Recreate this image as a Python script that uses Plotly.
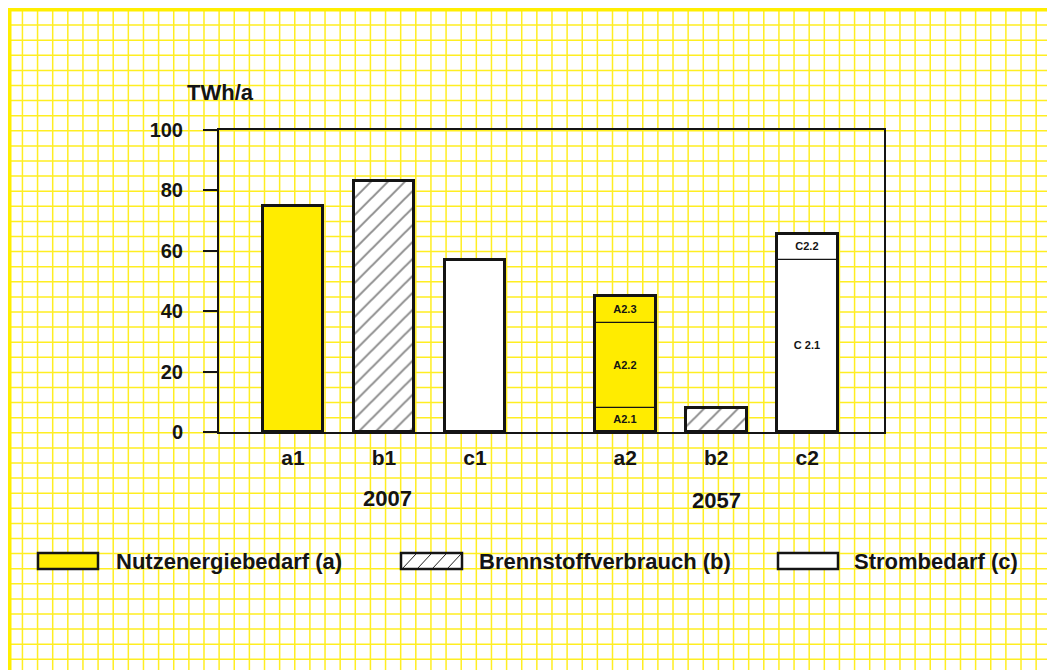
import plotly.graph_objects as go

# ---------------- data ----------------
groups = ["2007", "2057"]
categories_2007 = ["a1", "b1", "c1"]
categories_2057 = ["a2", "b2", "c2"]
nutzenergie_2007 = 75      # a1
brennstoff_2007 = 83       # b1
strom_2007 = 57            # c1
a2_labels = ["A2.1", "A2.2", "A2.3"]
a2_values = [8, 28, 9]
brennstoff_2057 = 8        # b2
c2_labels = ["C 2.1", "C2.2"]
c2_values = [57, 8.5]
legend_labels = ["Nutzenergiebedarf (a)", "Brennstoffverbrauch (b)", "Strombedarf (c)"]
y_ticks = [0, 20, 40, 60, 80, 100]
y_unit = "TWh/a"

# ---------------- layout helpers ----------------
OFF = 8                      # page body margin in the browser
W, H = 1055 - OFF, 670 - OFF
L, R, T, B = 219, 884, 130, 432      # plot area in window pixels
GROUP_OFFSET = 3.65
BAR_W = 0.67
X_RANGE = [-0.813, -0.813 + (R - L) / 91.0]

def px(x):
    return (x - L) / (R - L)

def py(y):
    return (B - y) / (B - T)

FONT = "Liberation Sans, Arial, Helvetica, sans-serif"
YELLOW = "#FFEC00"
GRID = "#FFEE22"
INK = "#141414"

pos_2007 = [i for i in range(len(categories_2007))]
pos_2057 = [GROUP_OFFSET + i for i in range(len(categories_2057))]
all_pos = pos_2007 + pos_2057
all_cats = categories_2007 + categories_2057

fig = go.Figure()

# simple bars
fig.add_trace(go.Bar(x=[pos_2007[0]], y=[nutzenergie_2007], width=BAR_W,
                     marker=dict(color=YELLOW, line=dict(width=0)), hoverinfo="skip"))
fig.add_trace(go.Bar(x=[pos_2007[1], pos_2057[1]], y=[brennstoff_2007, brennstoff_2057], width=BAR_W,
                     marker=dict(color="white", line=dict(width=0),
                                 pattern=dict(shape="/", size=12, solidity=0.16,
                                              fgcolor="#111111", bgcolor="white")),
                     hoverinfo="skip"))
fig.add_trace(go.Bar(x=[pos_2007[2]], y=[strom_2007], width=BAR_W,
                     marker=dict(color="white", line=dict(width=0)), hoverinfo="skip"))

# stacked segments a2
base = 0
for lab, v in zip(a2_labels, a2_values):
    fig.add_trace(go.Bar(x=[pos_2057[0]], y=[v], base=[base], width=BAR_W,
                         marker=dict(color=YELLOW, line=dict(width=1.2, color=INK)),
                         text=[lab], textposition="inside", insidetextanchor="middle",
                         textangle=0, constraintext="none",
                         textfont=dict(family=FONT, size=11, color=INK, weight=700),
                         hoverinfo="skip"))
    base += v

# stacked segments c2
base = 0
for lab, v in zip(c2_labels, c2_values):
    fig.add_trace(go.Bar(x=[pos_2057[2]], y=[v], base=[base], width=BAR_W,
                         marker=dict(color="white", line=dict(width=1.2, color=INK)),
                         text=[lab], textposition="inside", insidetextanchor="middle",
                         textangle=0, constraintext="none",
                         textfont=dict(family=FONT, size=11, color=INK, weight=700),
                         hoverinfo="skip"))
    base += v

# thick outlines over every bar
totals = [nutzenergie_2007, brennstoff_2007, strom_2007,
          sum(a2_values), brennstoff_2057, sum(c2_values)]
fig.add_trace(go.Bar(x=all_pos, y=totals, width=BAR_W,
                     marker=dict(color="rgba(0,0,0,0)", line=dict(width=3, color=INK)),
                     hoverinfo="skip"))

# ---------------- background grid (graph paper) ----------------
shapes = []
segs = []
x = 7.3
while x < 1053:
    segs.append(f"M{px(x):.5f},{py(7):.5f}L{px(x):.5f},{py(680):.5f}")
    x += 15.13
y = 10.0
while y < 680:
    segs.append(f"M{px(6):.5f},{py(y):.5f}L{px(1053):.5f},{py(y):.5f}")
    y += 15.1
shapes.append(dict(type="path", xref="paper", yref="paper", path="".join(segs),
                   line=dict(color=GRID, width=1.5), layer="below"))
# page border
shapes.append(dict(type="rect", xref="paper", yref="paper",
                   x0=px(9.5), x1=px(1052.5), y0=py(9.5), y1=py(700),
                   line=dict(color="#FFEE00", width=4), fillcolor="rgba(0,0,0,0)", layer="below"))

# ---------------- legend (drawn) ----------------
LEG_Y0, LEG_Y1 = 553, 569
leg_boxes = [(38, 98), (401, 462), (778, 838)]
leg_text_x = [114, 477, 852]
fills = [YELLOW, "white", "white"]
for (x0, x1), fc in zip(leg_boxes, fills):
    shapes.append(dict(type="rect", xref="paper", yref="paper",
                       x0=px(x0), x1=px(x1), y0=py(LEG_Y1), y1=py(LEG_Y0),
                       fillcolor=fc, line=dict(color=INK, width=2.5), layer="above"))
hx0, hx1 = leg_boxes[1]
hatch = []
xs = hx0 + 2
while xs + 13 <= hx1:
    hatch.append(f"M{px(xs):.5f},{py(LEG_Y1 - 1):.5f}L{px(xs + 13):.5f},{py(LEG_Y0 + 1):.5f}")
    xs += 15
shapes.append(dict(type="path", xref="paper", yref="paper", path="".join(hatch),
                   line=dict(color="#222222", width=1), layer="above"))

annotations = []
for lab, tx in zip(legend_labels, leg_text_x):
    annotations.append(dict(text=lab, xref="paper", yref="paper", x=px(tx), y=py(561),
                            xanchor="left", yanchor="middle", showarrow=False,
                            font=dict(family=FONT, size=22, color=INK, weight=700)))
# group labels
annotations.append(dict(text=groups[0], xref="x", yref="paper", x=pos_2007[1] + 0.04, y=py(498),
                        xanchor="center", yanchor="middle", showarrow=False,
                        font=dict(family=FONT, size=22, color=INK, weight=700)))
annotations.append(dict(text=groups[1], xref="x", yref="paper", x=pos_2057[1], y=py(500),
                        xanchor="center", yanchor="middle", showarrow=False,
                        font=dict(family=FONT, size=22, color=INK, weight=700)))
# unit label
annotations.append(dict(text=y_unit, xref="paper", yref="paper", x=px(220), y=py(93),
                        xanchor="center", yanchor="middle", showarrow=False,
                        font=dict(family=FONT, size=22, color=INK, weight=700)))

fig.update_layout(
    width=W, height=H,
    margin=dict(l=L - OFF, r=(1055 - OFF) - (R - OFF), t=T - OFF, b=(670 - OFF) - (B - OFF),
                autoexpand=False),
    paper_bgcolor="white", plot_bgcolor="rgba(0,0,0,0)",
    barmode="overlay", bargap=0, showlegend=False,
    shapes=shapes, annotations=annotations,
    xaxis=dict(range=X_RANGE, tickvals=all_pos, ticktext=all_cats, ticks="",
               showgrid=False, zeroline=False, showline=True, linewidth=2, linecolor=INK,
               mirror=True, ticklabelstandoff=6,
               tickfont=dict(family=FONT, size=21, color=INK, weight=700)),
    yaxis=dict(range=[0, 100], tickvals=y_ticks, ticks="outside", ticklen=14, tickwidth=2,
               tickcolor=INK, showgrid=False, zeroline=False, showline=True, linewidth=2,
               linecolor=INK, mirror=True, ticklabelstandoff=16,
               tickfont=dict(family=FONT, size=20, color=INK, weight=700)),
)

fig.write_html("out.html")
